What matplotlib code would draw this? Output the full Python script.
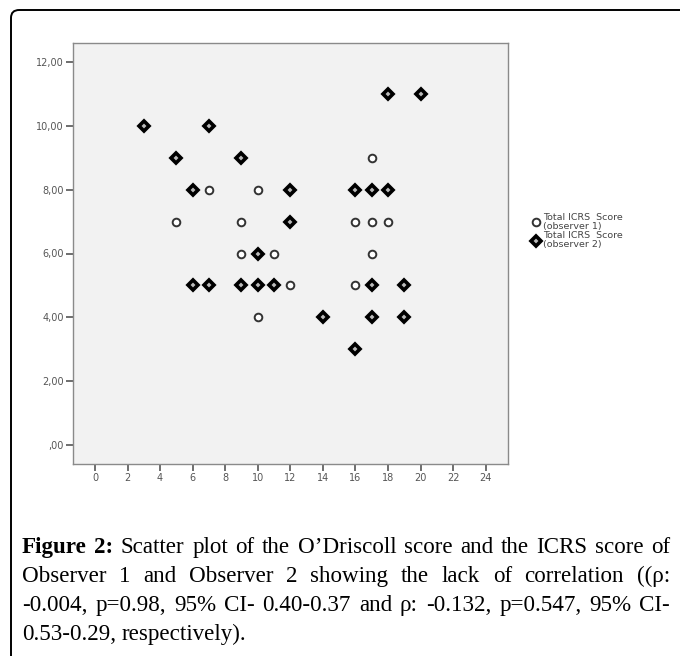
import matplotlib
matplotlib.use("Agg")
import matplotlib.pyplot as plt
from matplotlib.patches import FancyBboxPatch

# Total ICRS score (observer 1) vs O'Driscoll score
obs1_x = [7, 10, 5, 9, 9, 11, 12, 10, 17, 16, 17, 18, 17, 16]
obs1_y = [8, 8, 7, 7, 6, 6, 5, 4, 9, 7, 7, 7, 6, 5]

# Total ICRS score (observer 2)
obs2_x = [3, 7, 5, 9, 6, 12, 16, 17, 18, 18, 20, 12, 10, 6, 7, 9, 10, 11, 17, 19, 14, 17, 19, 16]
obs2_y = [10, 10, 9, 9, 8, 8, 8, 8, 8, 11, 11, 7, 6, 5, 5, 5, 5, 5, 5, 5, 4, 4, 4, 3]

x_ticks = list(range(0, 25, 2))
y_ticks = [0, 2, 4, 6, 8, 10, 12]
y_ticklabels = [",00", "2,00", "4,00", "6,00", "8,00", "10,00", "12,00"]

labels = ["Total ICRS  Score\n(observer 1)", "Total ICRS  Score\n(observer 2)"]

caption_lines = [
    "Figure 2: Scatter plot of the O\u2019Driscoll score and the ICRS score of",
    "Observer 1 and Observer 2 showing the lack of correlation ((\u03c1:",
    "-0.004, p=0.98, 95% CI- 0.40-0.37 and \u03c1: -0.132, p=0.547, 95% CI-",
    "0.53-0.29, respectively).",
]

W, H = 680, 656
fig = plt.figure(figsize=(W / 100, H / 100), dpi=100)

# outer frame with rounded corner
frame = FancyBboxPatch((11 / W, -0.05), 1.2, 1 - 10 / H + 0.05,
                       boxstyle="round,pad=0,rounding_size=0.012",
                       transform=fig.transFigure, fill=False,
                       edgecolor="black", linewidth=1.4)
fig.patches.append(frame)

ax = fig.add_axes([73 / W, 1 - 464 / H, 435 / W, 421 / H])
ax.set_facecolor("#f2f2f2")
for s in ax.spines.values():
    s.set_color("#8a8a8a")
    s.set_linewidth(1.0)

ax.plot(obs1_x, obs1_y, linestyle="none", marker="o", markersize=5.5,
        markerfacecolor="white", markeredgecolor="#333333",
        markeredgewidth=1.4, label=labels[0])
ax.plot(obs2_x, obs2_y, linestyle="none", marker="D", markersize=4.6,
        markerfacecolor="#bbbbbb", markeredgecolor="black",
        markeredgewidth=2.6, label=labels[1])

ax.set_xlim(-1.35, 25.37)
ax.set_ylim(-0.6, 12.6)
ax.set_xticks(x_ticks)
ax.set_yticks(y_ticks)
ax.set_yticklabels(y_ticklabels)
ax.tick_params(axis="both", direction="out", length=5, width=1.2,
               color="#555555", labelcolor="#555555", labelsize=7, pad=1.5)

leg = fig.legend(loc="upper left", bbox_to_anchor=(532 / W, 1 - 213 / H),
                 frameon=False, fontsize=6.8, handlelength=0.8,
                 handletextpad=0.35, labelspacing=0.05, borderpad=0,
                 borderaxespad=0)
for t in leg.get_texts():
    t.set_color("#444444")
    t.set_linespacing(1.0)

# justified caption, font size chosen so the first line nearly fills the width
fig.canvas.draw()
renderer = fig.canvas.get_renderer()
left, right = 22, 670
base_y = [553, 582, 611, 640]
fam = "Liberation Serif"

probe = fig.text(0, 0, caption_lines[0], fontsize=10, family=fam)
nat = probe.get_window_extent(renderer).width
probe.remove()
fs = 10 * (right - left) * 0.96 / nat

for i, line in enumerate(caption_lines):
    words = line.split(" ")
    texts = []
    for j, w in enumerate(words):
        bold = i == 0 and j < 2
        t = fig.text(0, 0, w, fontsize=fs, family=fam,
                     fontweight="bold" if bold else "normal",
                     transform=None, va="baseline", ha="left")
        texts.append(t)
    widths = [t.get_window_extent(renderer).width for t in texts]
    if i < len(caption_lines) - 1:
        gap = (right - left - sum(widths)) / (len(words) - 1)
    else:
        sp = fig.text(0, 0, "a a", fontsize=fs, family=fam)
        sp2 = fig.text(0, 0, "aa", fontsize=fs, family=fam)
        gap = sp.get_window_extent(renderer).width - sp2.get_window_extent(renderer).width
        sp.remove()
        sp2.remove()
    x = left
    for t, w in zip(texts, widths):
        t.set_position((x, H - base_y[i]))
        x += w + gap

fig.savefig("out.png", dpi=100)
